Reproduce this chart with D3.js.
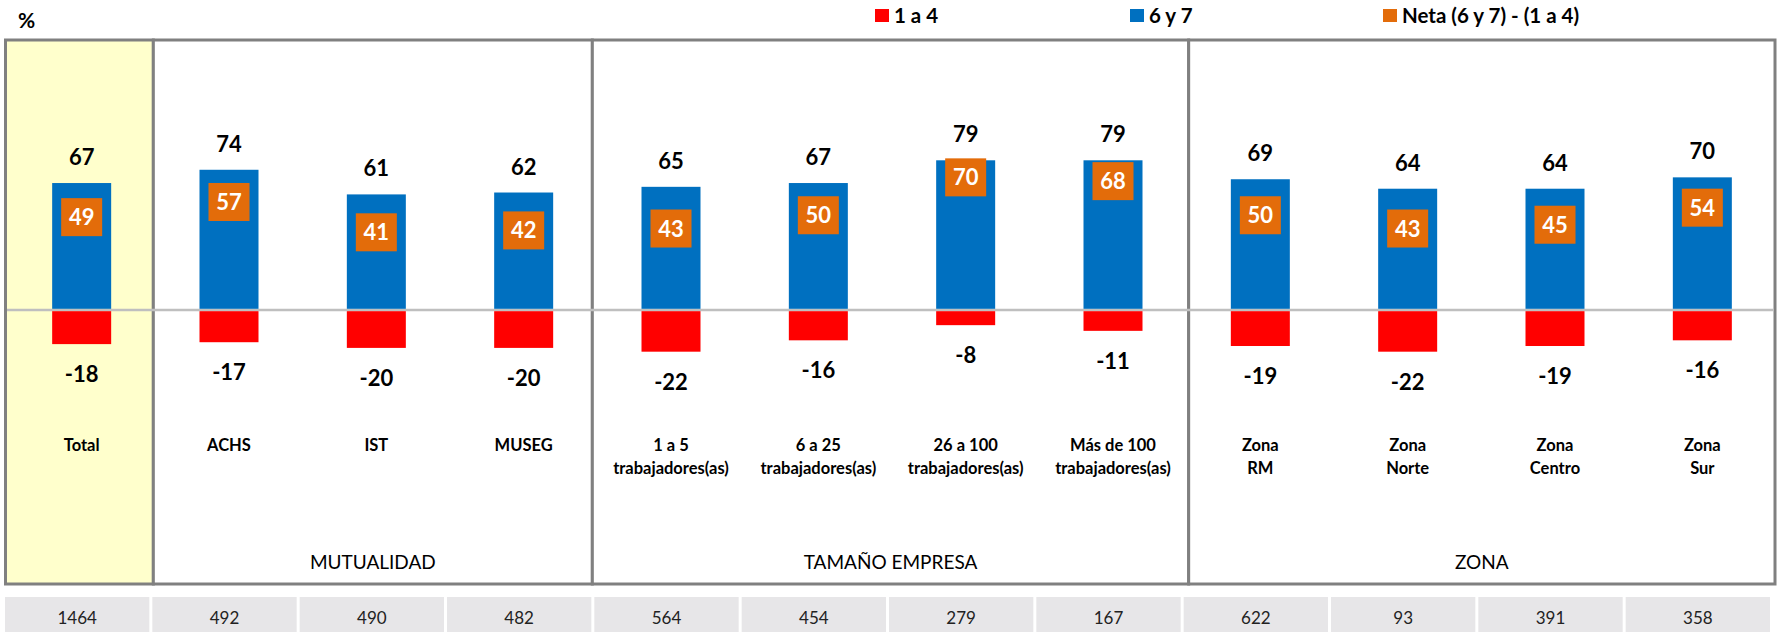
<!DOCTYPE html>
<html>
<head>
<meta charset="utf-8">
<script src="https://cdn.jsdelivr.net/npm/d3@7"></script>
<style>
  body { margin: 0; background: #fff; }
  svg { display: block; font-family: Lato, "Open Sans", sans-serif; }
</style>
</head>
<body>
<svg id="chart" width="1777" height="632"></svg>
<script>
// data
var categories = ["Total", "ACHS", "IST", "MUSEG",
  "1 a 5\ntrabajadores(as)", "6 a 25\ntrabajadores(as)", "26 a 100\ntrabajadores(as)", "Más de 100\ntrabajadores(as)",
  "Zona\nRM", "Zona\nNorte", "Zona\nCentro", "Zona\nSur"];
var notas67 = [67, 74, 61, 62, 65, 67, 79, 79, 69, 64, 64, 70];
var notas14 = [-18, -17, -20, -20, -22, -16, -8, -11, -19, -22, -19, -16];
var neta = [49, 57, 41, 42, 43, 50, 70, 68, 50, 43, 45, 54];
var casos = [1464, 492, 490, 482, 564, 454, 279, 167, 622, 93, 391, 358];
var groups = [
  {name: "", from: 0, to: 0},
  {name: "MUTUALIDAD", from: 1, to: 3},
  {name: "TAMAÑO EMPRESA", from: 4, to: 7},
  {name: "ZONA", from: 8, to: 11}
];
var legendNames = ["1 a 4", "6 y 7", "Neta (6 y 7) - (1 a 4)"];

var red = "#FF0000", blue = "#0070C0", orange = "#E36C0A", frameColor = "#808080";

var svg = d3.select("#chart");

var x = d3.scaleBand().domain(d3.range(categories.length)).range([8, 1776]).paddingInner(0);
var y = d3.scaleLinear().domain([-40, 100]).range([385.8, 120.5]);
var barW = 59;
var cx = function(i) { return x(i) + x.bandwidth() / 2; };

var frameTop = 40, frameBottom = 584, frameLeft = 5.5, frameRight = 1775;

// panel boxes (Total has a yellow background), small nudges to sit where the original dividers are
var edgeNudge = {1: -2, 4: -5, 8: 2};
var panelEdge = function(i) { return i === 0 ? frameLeft : x(i) + edgeNudge[i]; };
groups.forEach(function(g, gi) {
  var x0 = panelEdge(g.from);
  var x1 = g.to === categories.length - 1 ? frameRight : panelEdge(g.to + 1);
  svg.append("rect")
    .attr("x", x0).attr("y", frameTop)
    .attr("width", x1 - x0).attr("height", frameBottom - frameTop)
    .attr("fill", gi === 0 ? "#FFFFCC" : "#fff")
    .attr("stroke", frameColor).attr("stroke-width", 3);
  if (g.name) {
    svg.append("text")
      .attr("x", (x0 + x1) / 2).attr("y", 569)
      .attr("text-anchor", "middle")
      .attr("font-size", 19).attr("fill", "#000")
      .text(g.name);
  }
});

// zero line
svg.append("line")
  .attr("x1", frameLeft + 1.5).attr("x2", frameRight - 1.5)
  .attr("y1", y(0)).attr("y2", y(0))
  .attr("stroke", "#BFBFBF").attr("stroke-width", 2.5);

// bars 6 y 7
svg.selectAll(".pos").data(notas67).enter().append("rect")
  .attr("class", "pos")
  .attr("x", function(d, i) { return cx(i) - barW / 2; })
  .attr("y", function(d) { return y(d); })
  .attr("width", barW)
  .attr("height", function(d) { return y(0) - y(d) - 1.2; })
  .attr("fill", blue);

// bars 1 a 4
svg.selectAll(".neg").data(notas14).enter().append("rect")
  .attr("class", "neg")
  .attr("x", function(d, i) { return cx(i) - barW / 2; })
  .attr("y", y(0) + 1.2)
  .attr("width", barW)
  .attr("height", function(d) { return y(d) - y(0) - 1.2; })
  .attr("fill", red);

// value labels
svg.selectAll(".posLabel").data(notas67).enter().append("text")
  .attr("x", function(d, i) { return cx(i); })
  .attr("y", function(d) { return y(d) - 18; })
  .attr("text-anchor", "middle")
  .attr("font-size", 22).attr("font-weight", "bold")
  .text(function(d) { return d; });

svg.selectAll(".negLabel").data(notas14).enter().append("text")
  .attr("x", function(d, i) { return cx(i); })
  .attr("y", function(d) { return y(d) + 38; })
  .attr("text-anchor", "middle")
  .attr("font-size", 22).attr("font-weight", "bold")
  .text(function(d) { return d; });

// neta boxes
var netaG = svg.selectAll(".neta").data(neta).enter().append("g");
netaG.append("rect")
  .attr("x", function(d, i) { return cx(i) - 20.5; })
  .attr("y", function(d) { return y(d) - 19; })
  .attr("width", 41).attr("height", 38)
  .attr("fill", orange);
netaG.append("text")
  .attr("x", function(d, i) { return cx(i); })
  .attr("y", function(d) { return y(d) + 8; })
  .attr("text-anchor", "middle")
  .attr("font-size", 22).attr("font-weight", "bold").attr("fill", "#fff")
  .text(function(d) { return d; });

// category labels
categories.forEach(function(c, i) {
  var t = svg.append("text")
    .attr("x", cx(i)).attr("y", 451)
    .attr("text-anchor", "middle")
    .attr("font-size", 16.5).attr("font-weight", "bold");
  c.split("\n").forEach(function(line, j) {
    t.append("tspan").attr("x", cx(i)).attr("dy", j === 0 ? 0 : 23).text(line);
  });
});

// base table
svg.selectAll(".cell").data(casos).enter().append("rect")
  .attr("x", function(d, i) { return x(i) - 3; })
  .attr("y", 597)
  .attr("width", x.bandwidth() - 3)
  .attr("height", 40)
  .attr("fill", "#E7E6E8");
svg.selectAll(".cellText").data(casos).enter().append("text")
  .attr("x", function(d, i) { return x(i) - 3 + (x.bandwidth() - 3) / 2; })
  .attr("y", 623.5)
  .attr("text-anchor", "middle")
  .attr("font-size", 17).attr("fill", "#222")
  .text(function(d) { return d; });

// "%" title
svg.append("text").attr("x", 18).attr("y", 28)
  .attr("font-size", 21).attr("font-weight", "bold").text("%");

// legend
var legendX = [875, 1130, 1383];
var legendColors = [red, blue, orange];
legendNames.forEach(function(name, i) {
  svg.append("rect")
    .attr("x", legendX[i]).attr("y", 9)
    .attr("width", 14).attr("height", 13)
    .attr("fill", legendColors[i]);
  svg.append("text")
    .attr("x", legendX[i] + 19).attr("y", 23)
    .attr("font-size", 20.5).attr("font-weight", "bold")
    .text(name);
});
</script>
</body>
</html>
